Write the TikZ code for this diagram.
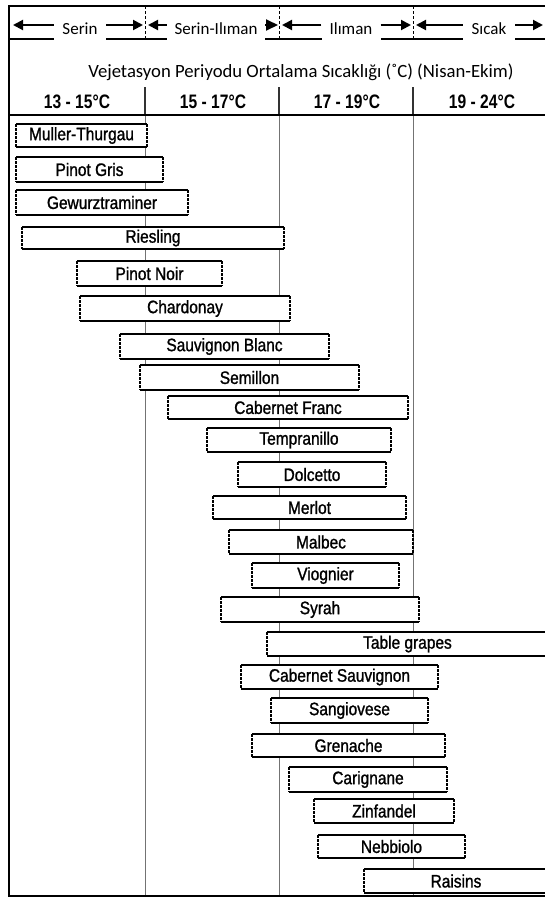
\documentclass[tikz,border=0pt]{standalone}
\usepackage{fontspec}
\setmainfont{Liberation Sans}
\newfontfamily\barfont{Liberation Sans}[FakeStretch=0.86,FakeBold=1.2]
\newfontfamily\tempfont{Liberation Sans}[FakeStretch=0.8]
\newfontfamily\hdrfont{Carlito}
\usetikzlibrary{arrows.meta}
\tikzset{
  frameline/.style={line width=2pt, black},
  divline/.style={line width=0.9pt, black!55},
  hdrdiv/.style={line width=1pt, black, dash pattern=on 3pt off 2pt},
  tempdiv/.style={line width=1.2pt, black!80},
  hdrarrow/.style={line width=2pt, -{Triangle[length=10pt,width=10pt]}},
  hdrhead/.style={line width=2pt, -{Triangle[length=12pt,width=11pt]}},
  hdrlabel/.style={fill=white, inner sep=0pt, font=\hdrfont\fontsize{17}{19}\selectfont},
  titletext/.style={inner sep=0pt, font=\hdrfont\fontsize{18.7}{21}\selectfont},
  temptext/.style={inner sep=0pt, font=\tempfont\bfseries\fontsize{19.5}{21}\selectfont},
  barlabel/.style={fill=white, inner sep=0pt, outer sep=0pt, font=\barfont\fontsize{18}{20}\selectfont},
  barsolid/.style={line width=2.2pt, black},
  barside/.style={line width=1.8pt, black, dash pattern=on 2.5pt off 1.5pt},
}
\newcommand\grapebar[6]{%
  \node[barlabel, minimum width={(#3-#2)*1pt}, minimum height={(#5-#4)*1pt}] (#1) at ({(#2+#3)/2},{(#4+#5)/2}) {#6};
  \draw[barsolid] (#1.north west) -- (#1.north east) (#1.south west) -- (#1.south east);
  \draw[barside] (#1.north west) -- (#1.south west) (#1.north east) -- (#1.south east);
}
\newcommand\grapebaropen[6]{%
  \node[barlabel, minimum width={(#3-#2)*1pt}, minimum height={(#5-#4)*1pt}] (#1) at ({(#2+#3)/2},{(#4+#5)/2}) {#6};
  \draw[barsolid] (#1.north west) -- (#1.north east) (#1.south west) -- (#1.south east);
  \draw[barside] (#1.north west) -- (#1.south west);
}
\begin{document}
\begin{tikzpicture}[x=1pt,y=-1pt]
\useasboundingbox (0,0) rectangle (545,898);
% frame
\coordinate (tl) at (9,6);
\coordinate (tr) at (545,6);
\coordinate (bl) at (9,896);
\coordinate (br) at (545,896);
\coordinate (r1l) at (9,39);
\coordinate (r1r) at (545,39);
\coordinate (r2l) at (9,115);
\coordinate (r2r) at (545,115);
% dividers
\foreach \x/\n in {145/a,279/b,413/c}{
  \coordinate (hd\n) at (\x,6);
  \coordinate (he\n) at (\x,39);
  \coordinate (ht\n) at (\x,87);
  \coordinate (hm\n) at (\x,115);
  \coordinate (bt\n) at (\x,896);
  \draw[hdrdiv] (hd\n) -- (he\n);
  \draw[tempdiv] (ht\n) -- (hm\n);
  \draw[divline] (hm\n) -- (bt\n);
}
\draw[frameline] (tr) -- (tl) -- (bl) -- (br);
\draw[frameline] (r1l) -- (r1r);
\draw[frameline] (r2l) -- (r2r);
% header arrows and labels
\node[hdrlabel, minimum width=52pt, minimum height=21pt] (serin) at (80,29) {Serin};
\node[hdrlabel, minimum width=98pt, minimum height=21pt] (serinil) at (216,29) {Serin-Ilıman};
\node[hdrlabel, minimum width=59pt, minimum height=21pt] (ilim) at (351,29) {Ilıman};
\node[hdrlabel, minimum width=52pt, minimum height=21pt] (sicak) at (489,29) {Sıcak};
\coordinate (s1l) at (13,25); \coordinate (s1r) at (143,25);
\coordinate (s2l) at (148,25); \coordinate (s2r) at (278,25);
\coordinate (s3l) at (282,25); \coordinate (s3r) at (411,25);
\coordinate (s4l) at (416,25); \coordinate (s4r) at (543,25);
\draw[hdrarrow] (serin.west |- s1l) -- (s1l);
\draw[hdrarrow] (serin.east |- s1r) -- (s1r);
\draw[hdrarrow] (serinil.west |- s2l) -- (s2l);
\draw[hdrhead] (serinil.east |- s2r) -- (s2r);
\draw[hdrarrow] (ilim.west |- s3l) -- (s3l);
\draw[hdrarrow] (ilim.east |- s3r) -- (s3r);
\draw[hdrarrow] (sicak.west |- s4l) -- (s4l);
\draw[hdrarrow] (sicak.east |- s4r) -- (s4r);
% title
\node[titletext] (title) at (301,72) {Vejetasyon Periyodu Ortalama Sıcaklığı (˚C) (Nisan-Ekim)};
% temperatures
\node[temptext] (t1) at (77,102) {13 - 15°C};
\node[temptext] (t2) at (213,102) {15 - 17°C};
\node[temptext] (t3) at (347,102) {17 - 19°C};
\node[temptext] (t4) at (482,102) {19 - 24°C};
% bars
\grapebar{muller}{16}{147}{124}{147}{Muller-Thurgau}
\grapebar{pgris}{16}{163}{157}{182}{Pinot Gris}
\grapebar{gewurz}{16}{188}{190}{215}{Gewurztraminer}
\grapebar{riesling}{22}{284}{227}{249}{Riesling}
\grapebar{pnoir}{77}{222}{261}{286}{Pinot Noir}
\grapebar{chardonay}{80}{290}{296}{321}{Chardonay}
\grapebar{sblanc}{120}{329}{334}{359}{Sauvignon Blanc}
\grapebar{semillon}{140}{359}{365}{390}{Semillon}
\grapebar{cfranc}{168}{408}{396}{419}{Cabernet Franc}
\grapebar{tempranillo}{207}{391}{428}{452}{Tempranillo}
\grapebar{dolcetto}{238}{386}{462}{487}{Dolcetto}
\grapebar{merlot}{213}{406}{496}{519}{Merlot}
\grapebar{malbec}{229}{413}{530}{554}{Malbec}
\grapebar{viognier}{252}{399}{563}{588}{Viognier}
\grapebar{syrah}{221}{419}{597}{622}{Syrah}
\grapebaropen{table}{267}{548}{632}{656}{Table grapes}
\grapebar{csauv}{241}{438}{665}{689}{Cabernet Sauvignon}
\grapebar{sangiovese}{271}{428}{698}{723}{Sangiovese}
\grapebar{grenache}{252}{445}{734}{757}{Grenache}
\grapebar{carignane}{289}{447}{767}{792}{Carignane}
\grapebar{zinfandel}{314}{454}{799}{823}{Zinfandel}
\grapebar{nebbiolo}{318}{465}{835}{858}{Nebbiolo}
\grapebaropen{raisins}{364}{548}{869}{893}{Raisins}
\end{tikzpicture}
\end{document}
